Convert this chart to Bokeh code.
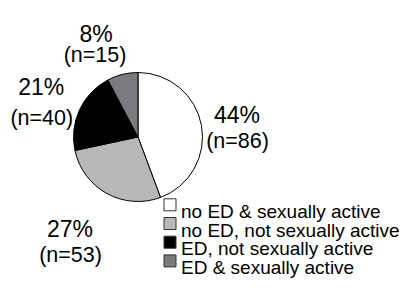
import math
from bokeh.plotting import figure
from bokeh.models import Range1d, ColumnDataSource
from bokeh.embed import file_html
from bokeh.resources import INLINE
from bokeh.core.properties import value

# ---- data ----
categories = ["no ED & sexually active", "no ED, not sexually active",
              "ED, not sexually active", "ED & sexually active"]
counts = [86, 53, 40, 15]
percent_labels = ["44%", "27%", "21%", "8%"]
count_labels = ["(n=86)", "(n=53)", "(n=40)", "(n=15)"]
colors = ["#ffffff", "#b8b8bb", "#000000", "#7b7b7f"]

# ---- layout (canvas pixels, y measured from top) ----
W, H = 401, 279
FONT = "Liberation Sans"
pie_cx, pie_cy, pie_r = 137.5, 136.5, 64.5
pct_pos = [(236.5, 114.0), (69.5, 228.3), (40.8, 86.7), (95.5, 33.3)]
cnt_pos = [(237.0, 140.5), (70.0, 254.5), (41.3, 117.2), (94.5, 54.8)]
leg_sq_x, leg_text_x = 169.5, 180.5
leg_base0, leg_step = 211.0, 18.7
sq_w, sq_h = 12, 12


def fy(y):
    return H - y


p = figure(width=W, height=H, output_backend="svg", toolbar_location=None,
           x_range=Range1d(0, W), y_range=Range1d(0, H),
           x_axis_type=None, y_axis_type=None, min_border=0)
p.outline_line_color = None
p.background_fill_color = "white"
p.border_fill_color = "white"

# pie wedges, clockwise from 12 o'clock
total = sum(counts)
cum = [0]
for c in counts:
    cum.append(cum[-1] + c)
ang = [math.pi / 2 - 2 * math.pi * c / total for c in cum]
src = ColumnDataSource(dict(
    start=[ang[i + 1] for i in range(len(counts))],
    end=[ang[i] for i in range(len(counts))],
    color=colors,
))
p.wedge(x=pie_cx, y=fy(pie_cy), radius=pie_r, start_angle="start", end_angle="end",
        direction="anticlock", fill_color="color", line_color="black", line_width=1,
        source=src)

# slice labels
p.text(x=[q[0] for q in pct_pos], y=[fy(q[1]) for q in pct_pos], text=percent_labels,
       text_align="center", text_baseline="alphabetic",
       text_font=value(FONT), text_font_size="23px", text_color="black")
p.text(x=[q[0] for q in cnt_pos], y=[fy(q[1]) for q in cnt_pos], text=count_labels,
       text_align="center", text_baseline="alphabetic",
       text_font=value(FONT), text_font_size="21.5px", text_color="black")

# legend
bases = [leg_base0 + i * leg_step for i in range(len(categories))]
p.rect(x=[leg_sq_x] * len(categories), y=[fy(b - 0.7 - sq_h / 2) for b in bases],
       width=sq_w, height=sq_h, fill_color=colors, line_color="#333333", line_width=1)
p.text(x=[leg_text_x] * len(categories), y=[fy(b) for b in bases], text=categories,
       text_align="left", text_baseline="alphabetic",
       text_font=value(FONT), text_font_size="19px", text_color="black")

open("out.html", "w").write(file_html(p, INLINE))
